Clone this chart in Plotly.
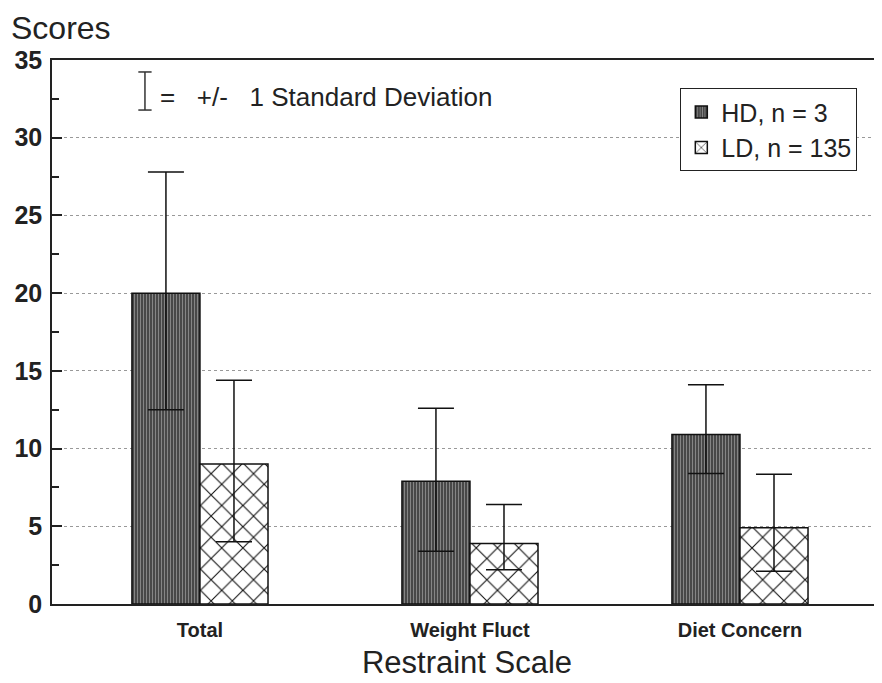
import plotly.graph_objects as go

categories = ["Total", "Weight Fluct", "Diet Concern"]
hd_mean = [20.0, 7.9, 10.9]
hd_upper = [27.8, 12.6, 14.1]
hd_lower = [12.5, 3.4, 8.4]
ld_mean = [9.0, 3.9, 4.9]
ld_upper = [14.4, 6.4, 8.35]
ld_lower = [4.0, 2.2, 2.1]
y_ticks = [0, 5, 10, 15, 20, 25, 30, 35]

FONT = "Liberation Sans, Arial, sans-serif"


def plus(mean, upper):
    return [u - m for m, u in zip(mean, upper)]


def minus(mean, lower):
    return [m - l for m, l in zip(mean, lower)]


fig = go.Figure()
fig.add_trace(go.Bar(
    x=categories, y=hd_mean, name="HD, n = 3", legendgroup="hd",
    marker=dict(color="#505050", line=dict(color="#111", width=1.5),
                pattern=dict(shape="|", bgcolor="#484848", fgcolor="#858585",
                             size=3, solidity=0.35, fillmode="replace")),
    error_y=dict(type="data", symmetric=False, array=plus(hd_mean, hd_upper),
                 arrayminus=minus(hd_mean, hd_lower), color="#111",
                 thickness=1.5, width=18),
))
fig.add_trace(go.Bar(
    x=categories, y=ld_mean, name="LD, n = 135", legendgroup="ld",
    marker=dict(color="white", line=dict(color="#111", width=1.5),
                pattern=dict(shape="x", bgcolor="white", fgcolor="#111",
                             size=15, solidity=0.14, fillmode="replace")),
    error_y=dict(type="data", symmetric=False, array=plus(ld_mean, ld_upper),
                 arrayminus=minus(ld_mean, ld_lower), color="#111",
                 thickness=1.5, width=18),
))

# error-bar key symbol
sx = 0.112
shapes = [
    dict(type="line", xref="paper", yref="paper", x0=sx, x1=sx, y0=0.908, y1=0.978,
         line=dict(color="#333", width=1.5)),
    dict(type="line", xref="paper", yref="paper", x0=sx - 0.008, x1=sx + 0.008,
         y0=0.978, y1=0.978, line=dict(color="#333", width=1.5)),
    dict(type="line", xref="paper", yref="paper", x0=sx - 0.008, x1=sx + 0.008,
         y0=0.908, y1=0.908, line=dict(color="#333", width=1.5)),
]

fig.update_layout(
    width=874, height=675,
    margin=dict(l=44, r=0, t=52, b=79, autoexpand=False),
    paper_bgcolor="white", plot_bgcolor="white",
    font=dict(family=FONT, color="#222"),
    barmode="group", bargap=0.496, bargroupgap=0,
    showlegend=True,
    legend=dict(x=0.757, y=0.948, xanchor="left", yanchor="top",
                bordercolor="#222", borderwidth=1, bgcolor="white",
                font=dict(family=FONT, size=25, color="#222"),
                tracegroupgap=0, itemwidth=30),
    shapes=shapes,
    annotations=[
        dict(text="Scores", xref="paper", yref="paper", x=0, y=1, xshift=-43,
             yshift=32, xanchor="left", yanchor="middle", showarrow=False,
             font=dict(family=FONT, size=32, color="#222")),
        dict(text="=   +/-   1 Standard Deviation", xref="paper", yref="paper",
             x=0.128, y=0.932, xanchor="left", yanchor="middle", showarrow=False,
             font=dict(family=FONT, size=26, color="#222")),
    ],
)

fig.update_xaxes(
    range=[-0.548, 2.526], showline=True, linecolor="#222", linewidth=1.5,
    mirror=True, ticks="", showgrid=False, automargin=False,
    ticklabelstandoff=7,
    tickfont=dict(family=FONT, size=20, weight="bold", color="#222"),
    title=dict(text="Restraint Scale", font=dict(family=FONT, size=31, color="#222"),
               standoff=12),
)
fig.update_yaxes(
    range=[0, 35], tickvals=y_ticks, showline=True, linecolor="#222", linewidth=1.5,
    ticks="inside", ticklen=10, tickwidth=2, tickcolor="#222",
    minor=dict(ticks="inside", ticklen=7, tickwidth=1.5, tickcolor="#222", dtick=2.5,
               showgrid=False),
    showgrid=True, gridcolor="#999", griddash="dot", gridwidth=1,
    tickfont=dict(family=FONT, size=25, weight="bold", color="#222"),
    ticklabelstandoff=3, zeroline=False, automargin=False,
)

fig.write_html("out.html")
